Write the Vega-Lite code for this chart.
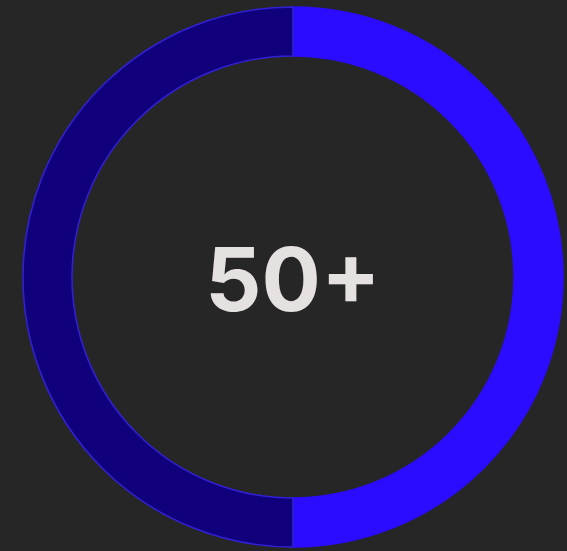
{
  "$schema": "https://vega.github.io/schema/vega-lite/v6.json",
  "autosize": {"type": "fit", "contains": "padding"},
  "width": 567,
  "height": 551,
  "padding": {"left": 19, "right": 0, "top": 3, "bottom": 0},
  "background": "#272626",
  "config": {"view": {"stroke": null}},
  "data": {"values": [
    {"part": "filled", "value": 50, "label": "50+"},
    {"part": "remaining", "value": 50, "label": "50+"}
  ]},
  "layer": [
    {
      "mark": {"type": "arc", "outerRadius": 270, "innerRadius": 221},
      "encoding": {
        "theta": {"field": "value", "type": "quantitative", "stack": true},
        "order": {"field": "part", "type": "nominal", "sort": "ascending"},
        "color": {
          "field": "part",
          "type": "nominal",
          "scale": {"domain": ["filled", "remaining"], "range": ["#2b0cff", "#11007b"]},
          "legend": null
        },
        "stroke": {
          "field": "part",
          "type": "nominal",
          "scale": {"domain": ["filled", "remaining"], "range": ["#2b0cff", "#3020d8"]},
          "legend": null
        },
        "strokeWidth": {"value": 1.5}
      }
    },
    {
      "transform": [{"filter": "datum.part === 'filled'"}],
      "mark": {"type": "text", "font": "Inter", "fontWeight": "bold", "fontSize": 88, "color": "#e6e1e1", "align": "center", "baseline": "middle", "dy": 8},
      "encoding": {"text": {"field": "label"}}
    }
  ]
}
